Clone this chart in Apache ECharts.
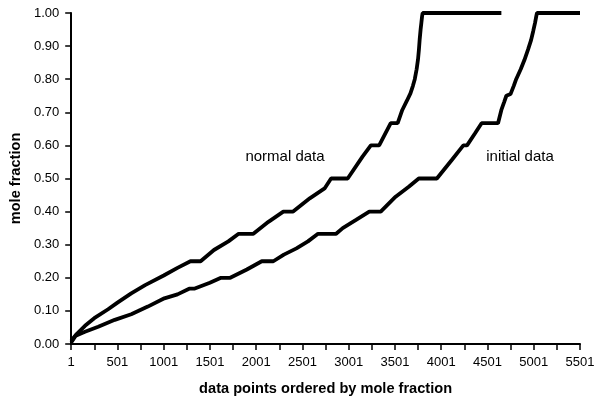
<!DOCTYPE html>
<html>
<head>
<meta charset="utf-8">
<script src="https://cdn.jsdelivr.net/npm/echarts@6/dist/echarts.min.js"></script>
<style>
html,body{margin:0;padding:0;background:#fff;}
#chart{width:600px;height:402px;}
</style>
</head>
<body>
<div id="chart"></div>
<script>
// Data: [data point number, mole fraction]
const normalData = [
  [1,0.01],[60,0.03],[150,0.055],[250,0.078],[400,0.105],[501,0.125],[650,0.153],[800,0.178],
  [1001,0.207],[1150,0.23],[1290,0.25],[1400,0.25],[1544,0.284],[1700,0.31],[1811,0.333],
  [1970,0.333],[2133,0.369],[2294,0.40],[2400,0.40],[2580,0.44],[2740,0.47],[2810,0.50],
  [2990,0.50],[3150,0.566],[3240,0.60],[3330,0.60],[3455,0.667],[3530,0.667],[3580,0.707],
  [3630,0.735],[3668,0.757],[3695,0.78],[3715,0.80],[3735,0.83],[3750,0.86],[3760,0.89],
  [3768,0.92],[3778,0.95],[3786,0.97],[3794,0.99],[3800,1.0],[4651,1.0]
];
const initialData = [
  [1,0.005],[50,0.025],[150,0.037],[293,0.052],[472,0.073],[650,0.09],[829,0.113],[1008,0.138],
  [1150,0.15],[1276,0.167],[1330,0.167],[1500,0.185],[1620,0.20],[1720,0.20],[1900,0.225],
  [2061,0.25],[2186,0.25],[2300,0.27],[2436,0.289],[2560,0.31],[2669,0.333],[2865,0.333],
  [2936,0.35],[3080,0.375],[3223,0.40],[3347,0.40],[3508,0.445],[3650,0.475],[3758,0.50],
  [3954,0.50],[4115,0.556],[4240,0.60],[4280,0.60],[4365,0.636],[4437,0.667],[4615,0.667],
  [4651,0.707],[4680,0.73],[4705,0.75],[4750,0.755],[4785,0.78],[4811,0.80],[4860,0.83],
  [4900,0.858],[4940,0.89],[4972,0.918],[4995,0.945],[5015,0.97],[5028,0.99],[5036,1.0],
  [5501,1.0]
];
const seriesNames = ['normal data','initial data'];
const xAxisName = 'data points ordered by mole fraction';
const yAxisName = 'mole fraction';

// axis values are offsets (point - 1) so ticks fall at 1, 501, 1001, ...
const toAxis = arr => arr.map(d => [d[0] - 1, d[1]]);

const font = 'Liberation Sans, Arial, Helvetica, sans-serif';
const chart = echarts.init(document.getElementById('chart'), null, {renderer:'canvas'});
chart.setOption({
  backgroundColor:'#fff',
  animation:false,
  grid:{left:66,top:13,right:20,bottom:58,containLabel:false},
  xAxis:{
    type:'value',min:0,max:5500,interval:500,
    name:xAxisName,nameLocation:'middle',nameGap:37,
    nameTextStyle:{fontFamily:font,fontWeight:'bold',fontSize:14.6,color:'#000'},
    axisLine:{show:true,lineStyle:{color:'#000',width:2}},
    axisTick:{show:true,length:6,inside:false,lineStyle:{color:'#000',width:1.5}},
    minorTick:{show:true,splitNumber:2,length:6,lineStyle:{color:'#000',width:1.5}},
    splitLine:{show:false},
    axisLabel:{fontFamily:font,fontSize:13,color:'#000',margin:12,
      formatter:v=>String(v+1)}
  },
  yAxis:{
    type:'value',min:0,max:1,interval:0.1,
    name:yAxisName,nameLocation:'middle',nameGap:48,nameRotate:90,
    nameTextStyle:{fontFamily:font,fontWeight:'bold',fontSize:14.6,color:'#000'},
    axisLine:{show:true,lineStyle:{color:'#000',width:2}},
    axisTick:{show:true,length:6,lineStyle:{color:'#000',width:1.5}},
    splitLine:{show:false},
    axisLabel:{fontFamily:font,fontSize:13,color:'#000',margin:12,
      formatter:v=>v.toFixed(2)}
  },
  series:[
    {name:seriesNames[0],type:'line',data:toAxis(normalData),showSymbol:false,
     lineStyle:{color:'#000',width:3.8},itemStyle:{color:'#000'}},
    {name:seriesNames[1],type:'line',data:toAxis(initialData),showSymbol:false,
     lineStyle:{color:'#000',width:3.8},itemStyle:{color:'#000'}}
  ],
  graphic:[
    {type:'text',x:285,y:157,style:{text:seriesNames[0],fontFamily:font,fontSize:15,fill:'#000',
      textAlign:'center',textVerticalAlign:'middle'}},
    {type:'text',x:520,y:157,style:{text:seriesNames[1],fontFamily:font,fontSize:15,fill:'#000',
      textAlign:'center',textVerticalAlign:'middle'}}
  ]
});
</script>
</body>
</html>
